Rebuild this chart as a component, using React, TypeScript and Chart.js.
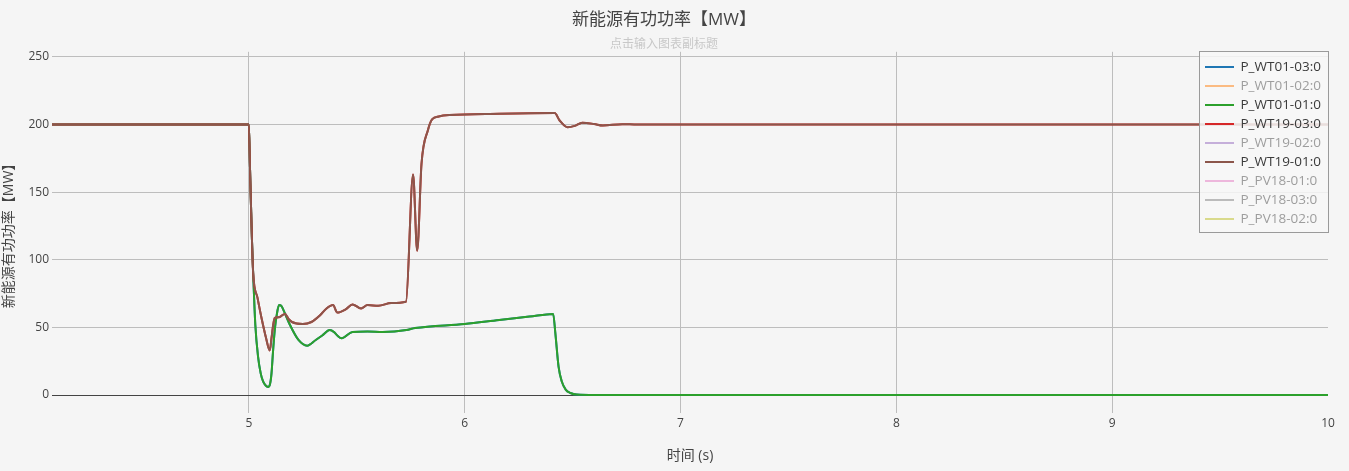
import React, { useEffect, useRef } from 'react';
import { Chart, registerables } from 'chart.js';

Chart.register(...registerables);

const FONT = "'Open Sans', 'Noto Sans CJK SC', sans-serif";

const titleText = '新能源有功功率【MW】';
const subtitleText = '点击输入图表副标题';
const xAxisTitle = '时间 (s)';
const yAxisTitle = '新能源有功功率【MW】';

const xTicks = [5, 6, 7, 8, 9, 10];
const yTicks = [0, 50, 100, 150, 200, 250];

const seriesNames = [
  'P_WT01-03:0',
  'P_WT01-02:0',
  'P_WT01-01:0',
  'P_WT19-03:0',
  'P_WT19-02:0',
  'P_WT19-01:0',
  'P_PV18-01:0',
  'P_PV18-03:0',
  'P_PV18-02:0',
];
const seriesColors = [
  '#1f77b4',
  '#ff7f0e',
  '#2ca02c',
  '#d62728',
  '#9467bd',
  '#8c564b',
  '#e377c2',
  '#7f7f7f',
  '#bcbd22',
];
const seriesVisible = [true, false, true, true, false, true, false, false, false];

const timeWT01 = [
  4.088, 5.0, 5.005, 5.01, 5.015, 5.02, 5.03, 5.043, 5.055, 5.066, 5.078, 5.089,
  5.098, 5.105, 5.112, 5.12, 5.13, 5.14, 5.15, 5.16, 5.19, 5.23, 5.27, 5.31, 5.34,
  5.375, 5.395, 5.41, 5.43, 5.48, 5.55, 5.62, 5.73, 5.77, 6.0, 6.16, 6.3, 6.41,
  6.42, 6.435, 6.45, 6.468, 6.49, 6.52, 6.6, 10,
];
const powerWT01_01 = [
  200, 200, 170, 140, 112, 90, 52, 28, 16, 10, 7, 6,
  8, 16, 32, 48, 60, 66.5, 66, 63, 52, 40.7, 36.5, 40.7, 44,
  48, 46.5, 44, 42, 46.6, 47, 46.6, 48, 49.5, 52.5, 55.5, 58, 60,
  46, 21, 10, 4, 1.5, 0.3, 0, 0,
];
const powerWT01_03 = [
  200, 200, 170, 140, 112, 90, 52, 28, 16, 10, 7, 6,
  8, 16, 32, 48, 60, 66.5, 66, 63, 52, 40.7, 36.5, 40.7, 44,
  48, 46.5, 44, 42, 46.6, 47, 46.6, 48, 49.5, 52.5, 55.5, 58, 60,
  46, 21, 10, 4, 1.5, 0.3, 0, 0,
];

const timeWT19 = [
  4.088, 5.0, 5.005, 5.01, 5.015, 5.02, 5.04, 5.06, 5.08, 5.097, 5.105, 5.113,
  5.12, 5.14, 5.167, 5.185, 5.2, 5.25, 5.29, 5.33, 5.36, 5.39, 5.41, 5.45, 5.48,
  5.52, 5.55, 5.6, 5.66, 5.728, 5.761, 5.78, 5.8, 5.83, 5.85, 5.88, 5.93, 6.16,
  6.417, 6.44, 6.477, 6.51, 6.545, 6.6, 6.64, 6.73, 6.8, 10,
];
const powerWT19_01 = [
  200, 200, 170, 140, 112, 90, 72, 56, 42, 33, 42, 52,
  57, 57.5, 60, 56, 54, 52.5, 54, 59, 64, 66.5, 61, 63.5, 67,
  64, 66.5, 66, 68, 69, 163, 106.7, 171, 196, 204, 206, 207, 208,
  208.5, 203, 198, 199, 201.4, 200.4, 199.3, 200.3, 200, 200,
];
const powerWT19_03 = [
  200, 200, 170, 140, 112, 90, 72, 56, 42, 33, 42, 52,
  57, 57.5, 60, 56, 54, 52.5, 54, 59, 64, 66.5, 61, 63.5, 67,
  64, 66.5, 66, 68, 69, 163, 106.7, 171, 196, 204, 206, 207, 208,
  208.5, 203, 198, 199, 201.4, 200.4, 199.3, 200.3, 200, 200,
];

const zip = (t: number[], v: number[]) =>
  t.slice(0, Math.min(t.length, v.length)).map((x, i) => ({ x, y: v[i] }));

const seriesData: { x: number; y: number }[][] = [
  zip(timeWT01, powerWT01_03),
  [],
  zip(timeWT01, powerWT01_01),
  zip(timeWT19, powerWT19_03),
  [],
  zip(timeWT19, powerWT19_01),
  [],
  [],
  [],
];
// lower order is drawn on top (later series on top, as in the reference)
const seriesOrder = [8, 7, 6, 5, 4, 3, 2, 1, 0];

const hexToRgba = (hex: string, a: number) => {
  const n = parseInt(hex.slice(1), 16);
  return `rgba(${(n >> 16) & 255},${(n >> 8) & 255},${n & 255},${a})`;
};

const bgPlugin = {
  id: 'pageBg',
  beforeDraw(chart: any) {
    const { ctx, width, height } = chart;
    ctx.save();
    ctx.fillStyle = '#f5f5f5';
    ctx.fillRect(0, 0, width, height);
    ctx.restore();
  },
};

const boxLegendPlugin = {
  id: 'boxLegend',
  afterDraw(chart: any) {
    const { ctx, chartArea } = chart;
    const w = 129;
    const left = Math.round(chartArea.right - w) + 0.5;
    const top = Math.round(chartArea.top - 1) + 0.5;
    const rowH = 19;
    const h = 181;
    ctx.save();
    ctx.fillStyle = 'rgba(247,247,247,0.85)';
    ctx.fillRect(left, top, w, h);
    ctx.strokeStyle = '#9a9a9a';
    ctx.lineWidth = 1;
    ctx.strokeRect(left, top, w, h);
    ctx.font = `13.5px ${FONT}`;
    ctx.textBaseline = 'middle';
    ctx.textAlign = 'left';
    seriesNames.forEach((name, i) => {
      const y = top + 15.5 + i * rowH;
      const vis = seriesVisible[i];
      ctx.strokeStyle = vis ? seriesColors[i] : hexToRgba(seriesColors[i], 0.5);
      ctx.lineWidth = 2;
      ctx.beginPath();
      ctx.moveTo(left + 5.5, y);
      ctx.lineTo(left + 34.5, y);
      ctx.stroke();
      ctx.fillStyle = vis ? '#3a3a3a' : 'rgba(68,68,68,0.5)';
      ctx.fillText(name, left + 41, y + 0.5);
    });
    ctx.restore();
  },
};

export default function App() {
  const canvasRef = useRef<HTMLCanvasElement | null>(null);

  useEffect(() => {
    document.body.style.margin = '0';
    const canvas = canvasRef.current;
    if (!canvas) return;
    const chart = new Chart(canvas, {
      type: 'line',
      data: {
        datasets: seriesNames.map((name, i) => ({
          label: name,
          data: seriesData[i],
          borderColor: seriesColors[i],
          backgroundColor: seriesColors[i],
          borderWidth: 2,
          pointRadius: 0,
          pointHoverRadius: 0,
          fill: false,
          cubicInterpolationMode: 'monotone' as const,
          hidden: !seriesVisible[i],
          order: seriesOrder[i],
        })),
      },
      options: {
        animation: false,
        responsive: true,
        maintainAspectRatio: false,
        layout: { padding: { left: 0, right: 21, top: 0, bottom: 0 } },
        plugins: {
          legend: { display: false },
          tooltip: { enabled: false },
          title: {
            display: true,
            text: titleText,
            color: '#444444',
            font: { family: FONT, size: 17, weight: 'normal' as const },
            padding: { top: 9.5, bottom: 3 },
          },
          subtitle: {
            display: true,
            text: subtitleText,
            color: '#c8c8c8',
            font: { family: FONT, size: 12, weight: 'normal' as const },
            padding: { top: 4, bottom: 0.5 },
          },
        },
        scales: {
          x: {
            type: 'linear',
            min: 4.088,
            max: 10,
            afterBuildTicks: (scale: any) => {
              scale.ticks = xTicks.map((v) => ({ value: v }));
            },
            afterFit: (scale: any) => {
              scale.height = 58;
            },
            ticks: {
              autoSkip: false,
              maxRotation: 0,
              padding: 3,
              color: '#444444',
              font: { family: FONT, size: 12 },
            },
            grid: {
              drawTicks: false,
              color: (ctx: any) =>
                ctx.tick && ctx.tick.value === 10 ? 'rgba(0,0,0,0)' : '#bdbdbd',
              lineWidth: 1,
            },
            border: { display: false },
            title: {
              display: true,
              text: xAxisTitle,
              color: '#444444',
              font: { family: FONT, size: 14 },
              padding: { top: 0, bottom: 6.5 },
            },
          },
          y: {
            type: 'linear',
            min: -13.3,
            max: 253.8,
            afterBuildTicks: (scale: any) => {
              scale.ticks = yTicks.map((v) => ({ value: v }));
            },
            afterFit: (scale: any) => {
              scale.width = 52;
            },
            ticks: {
              padding: 3,
              color: '#444444',
              font: { family: FONT, size: 12 },
            },
            grid: {
              drawTicks: false,
              color: (ctx: any) =>
                ctx.tick && ctx.tick.value === 0 ? '#444444' : '#bdbdbd',
              lineWidth: 1,
            },
            border: { display: false },
            title: {
              display: true,
              text: yAxisTitle,
              color: '#444444',
              font: { family: FONT, size: 14 },
              padding: { top: 1, bottom: 0 },
            },
          },
        },
      },
      plugins: [bgPlugin, boxLegendPlugin],
    } as any);
    return () => chart.destroy();
  }, []);

  return (
    <div style={{ width: 1349, height: 471, position: 'relative', background: '#f5f5f5' }}>
      <canvas ref={canvasRef} />
    </div>
  );
}
